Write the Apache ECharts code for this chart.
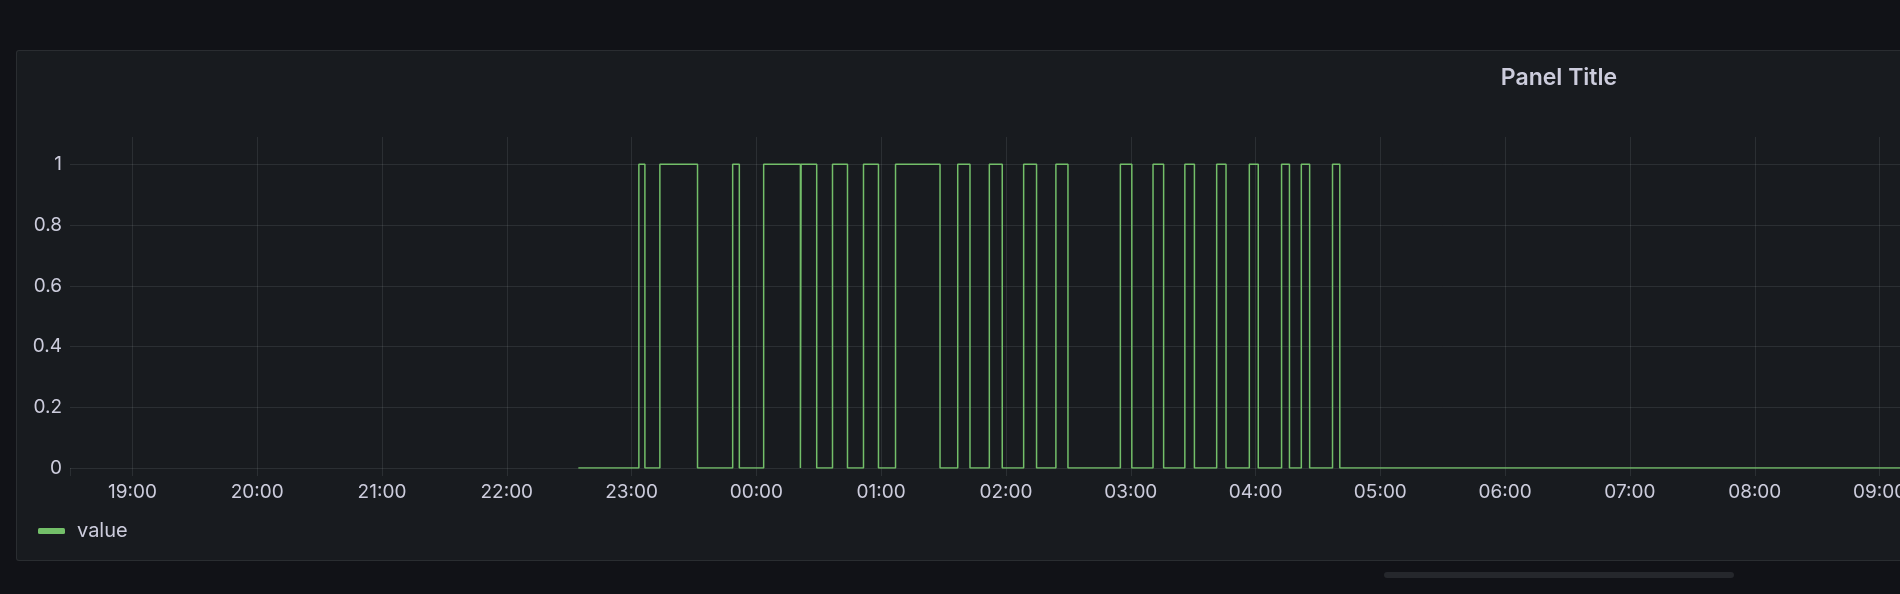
<!DOCTYPE html>
<html>
<head>
<meta charset="utf-8">
<script src="https://cdn.jsdelivr.net/npm/echarts@6/dist/echarts.min.js"></script>
<style>
  html, body { margin: 0; padding: 0; width: 1900px; height: 594px; overflow: hidden; background: #111217; }
  #panel { position: absolute; left: 16px; top: 50px; width: 3084px; height: 509px; background: #181b1f; border: 1px solid rgba(204,204,220,0.10); border-radius: 3px; }
  #scroll { position: absolute; left: 1384px; top: 572px; width: 350px; height: 6px; background: #25272c; border-radius: 3px; }
  #chart { position: absolute; left: 0; top: 0; width: 1900px; height: 594px; }
</style>
</head>
<body>
<div id="panel"></div>
<div id="scroll"></div>
<div id="chart"></div>
<script>
// ---- data ----
const seriesName = 'value';
const panelTitle = 'Panel Title';
// times at which the value changes (clock time; times before 18:00 belong to the next day)
const changeTimes = [
  '22:34:24','23:03:30','23:06:24','23:13:36','23:31:42','23:48:36','23:51:48',
  '00:03:30','00:21:10','00:21:30','00:29:00','00:36:36','00:43:48','00:51:30','00:58:42',
  '01:06:54','01:28:18','01:36:48','01:42:42','01:52:00','01:58:12',
  '02:08:30','02:14:42','02:24:00','02:29:48','02:55:00',
  '03:00:30','03:10:42','03:15:48','03:26:00','03:30:36','03:41:18','03:45:48','03:57:00',
  '04:01:18','04:12:30','04:16:18','04:22:00','04:26:00','04:37:00','04:40:30',
  '09:10:00'
];
// value held from each change time until the next one
const stateValues = [
  0,1,0,1,0,1,0,
  1,0,1,0,1,0,1,0,
  1,0,1,0,1,0,
  1,0,1,0,1,
  0,1,0,1,0,1,0,1,
  0,1,0,1,0,1,0,
  0
];
const axisStart = '18:30:00';
const axisEnd = '09:09:50';

// ---- helpers ----
function toTs(hms) {
  const p = hms.split(':').map(Number);
  const day = p[0] >= 18 ? 12 : 13;
  return new Date(2024, 4, day, p[0], p[1], p[2] || 0).getTime();
}
const seriesData = changeTimes.map((t, i) => [toTs(t), stateValues[i]]);
const pad = n => (n < 10 ? '0' : '') + n;

const textColor = '#ccccdc';
const gridColor = 'rgba(240,250,255,0.09)';
const lineColor = '#73bf69';
const fontFam = 'Inter, Roboto, sans-serif';

const chart = echarts.init(document.getElementById('chart'), null, { renderer: 'canvas' });
chart.setOption({
  backgroundColor: 'transparent',
  animation: false,
  textStyle: { fontFamily: fontFam },
  grid: { left: 70, right: 0, top: 137, bottom: 126, containLabel: false, outerBoundsMode: 'none' },
  graphic: [{
    type: 'text', x: 1559, y: 78,
    style: { text: panelTitle, align: 'center', verticalAlign: 'middle', fill: textColor,
             font: '600 23px ' + fontFam }
  }],
  legend: {
    show: true, left: 33, top: 516, icon: 'roundRect', itemWidth: 27, itemHeight: 6,
    itemGap: 20,
    textStyle: { color: textColor, fontSize: 20, fontFamily: fontFam, padding: [0, 0, 0, 7] },
    data: [seriesName]
  },
  xAxis: {
    type: 'time',
    min: toTs(axisStart), max: toTs(axisEnd),
    minInterval: 3600 * 1000, maxInterval: 3600 * 1000,
    axisLine: { show: false },
    axisTick: { show: true, length: 8, lineStyle: { color: gridColor, width: 1 } },
    splitLine: { show: true, showMinLine: false, showMaxLine: false, lineStyle: { color: gridColor, width: 1 } },
    axisLabel: {
      color: textColor, fontSize: 19, fontFamily: fontFam, margin: 15,
      showMinLabel: true, showMaxLabel: true,
      formatter: function (v) {
        const d = new Date(v);
        if (d.getMinutes() !== 0 || d.getSeconds() !== 0) return '';
        return pad(d.getHours()) + ':' + pad(d.getMinutes());
      }
    }
  },
  yAxis: {
    type: 'value', min: 0, max: 1.09, interval: 0.2,
    axisLine: { show: false }, axisTick: { show: false },
    splitLine: { show: true, showMaxLine: false, lineStyle: { color: gridColor, width: 1 } },
    axisLabel: {
      color: textColor, fontSize: 19, fontFamily: fontFam, margin: 8, showMaxLabel: false,
      formatter: function (v) {
        if (Math.abs(v * 5 - Math.round(v * 5)) > 1e-6) return '';
        return String(+v.toFixed(1));
      }
    }
  },
  series: [{
    name: seriesName, type: 'line', step: 'end', data: seriesData,
    showSymbol: false, symbol: 'none',
    lineStyle: { color: lineColor, width: 1.5 },
    itemStyle: { color: lineColor },
    clip: true
  }]
});
</script>
</body>
</html>
